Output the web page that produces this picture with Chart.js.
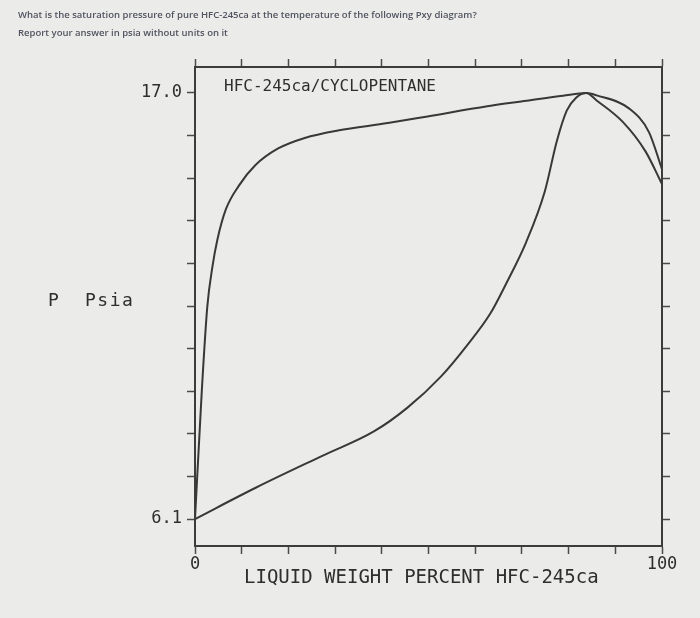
<!DOCTYPE html>
<html lang="en">

<head>
    <script src="https://cdn.jsdelivr.net/npm/chart.js"></script>
    <meta charset="UTF-8">
    <title>Pxy diagram</title>
    <style>
        body {
            margin: 0;
            background: #ebebe9;
        }

        #wrap {
            position: relative;
            width: 700px;
            height: 618px;
            overflow: hidden;
        }

        #pxy {
            position: absolute;
            left: 0;
            top: 0;
        }

        .question {
            position: absolute;
            left: 18px;
            font-family: "Open Sans", Arial, sans-serif;
            font-size: 9.5px;
            font-weight: 600;
            line-height: 10px;
            color: #50535f;
            white-space: nowrap;
        }

        .plotText {
            position: absolute;
            font-family: "DejaVu Sans Mono", monospace;
            color: #2e2e2e;
            white-space: pre;
        }
    </style>
</head>

<body>
    <div id="wrap">
        <canvas id="pxy" width="700" height="618"></canvas>
        <div class="question" style="top:10px">What is the saturation pressure of pure HFC-245ca at the temperature of the following Pxy diagram?</div>
        <div class="question" style="top:28px">Report your answer in psia without units on it</div>
        <div class="plotText" style="left:224px; top:78px; font-size:16px; line-height:16px">HFC-245ca/CYCLOPENTANE</div>
        <div class="plotText" style="left:48px; top:291px; font-size:18px; line-height:18px; letter-spacing:1.5px">P  Psia</div>
        <div class="plotText" style="left:244px; top:567px; font-size:19px; line-height:19px">LIQUID WEIGHT PERCENT HFC-245ca</div>
    </div>

    <script>
        // outer curve
        const upperWt = [0, 1.47, 2.64, 3.75, 4.8, 6.6, 9.4, 12.9, 17.8, 23.5, 30.6, 41.3, 49.8, 62.6, 71.0, 78.8, 83.8, 86.0, 93.0, 97.2, 100];
        const upperP = [6.1, 9.41, 11.54, 12.57, 13.25, 14.02, 14.63, 15.15, 15.58, 15.85, 16.04, 16.23, 16.4, 16.66, 16.8, 16.93, 17.0, 16.94, 16.6, 16.0, 15.05];

        // inner curve
        const lowerWt = [0, 13.0, 27.5, 38.3, 45.5, 52.7, 58.3, 63.2, 66.7, 70.9, 74.9, 77.5, 79.6, 81.6, 83.8, 86.0, 91.6, 96.5, 100];
        const lowerP = [6.1, 6.9, 7.73, 8.34, 8.95, 9.75, 10.55, 11.35, 12.14, 13.18, 14.48, 15.78, 16.55, 16.88, 17.0, 16.81, 16.26, 15.5, 14.67];

        const wtTicks = [0, 10, 20, 30, 40, 50, 60, 70, 80, 90, 100];
        const wtTickLabels = ['0', '', '', '', '', '', '', '', '', '', '100'];
        const pTicks = [6.1, 7.19, 8.28, 9.37, 10.46, 11.55, 12.64, 13.73, 14.82, 15.91, 17.0];
        const pTickLabels = ['6.1', '', '', '', '', '', '', '', '', '', '17.0'];

        const P_MIN = 5.41;
        const P_MAX = 17.665;
        const ink = '#383838';
        const mono = '"DejaVu Sans Mono", monospace';

        function toPoints(xs, ys) {
            return xs.map((x, i) => ({ x: x, y: ys[i] }));
        }

        function frameAxis(position, size, labels, ticks, min, max) {
            const horiz = position === 'top' || position === 'bottom';
            return {
                type: 'linear',
                position: position,
                min: min,
                max: max,
                afterFit: s => {
                    if (horiz) s.height = size; else s.width = size;
                },
                afterBuildTicks: s => {
                    s.ticks = ticks.map(v => ({ value: v }));
                },
                ticks: {
                    display: labels !== null,
                    autoSkip: false,
                    maxRotation: 0,
                    padding: horiz ? 0 : 5,
                    color: '#2e2e2e',
                    font: { family: mono, size: 17 },
                    callback: (v, i) => labels ? labels[i] : ''
                },
                grid: {
                    drawOnChartArea: false,
                    drawTicks: true,
                    tickLength: 8,
                    tickWidth: 1.5,
                    tickColor: '#4a4a4a'
                },
                border: { display: true, color: '#3c3c3c', width: 2 }
            };
        }

        new Chart(document.getElementById('pxy'), {
            type: 'scatter',
            data: {
                datasets: [{
                    label: 'upper',
                    data: toPoints(upperWt, upperP),
                    xAxisID: 'x',
                    yAxisID: 'y'
                },
                {
                    label: 'lower',
                    data: toPoints(lowerWt, lowerP),
                    xAxisID: 'x',
                    yAxisID: 'y'
                }]
            },
            options: {
                responsive: false,
                animation: false,
                layout: { padding: 0 },
                elements: {
                    point: { radius: 0 },
                    line: { borderColor: ink, borderWidth: 2, cubicInterpolationMode: 'monotone' }
                },
                datasets: {
                    scatter: { showLine: true }
                },
                plugins: {
                    legend: { display: false },
                    tooltip: { enabled: false }
                },
                scales: {
                    x: frameAxis('bottom', 72, wtTickLabels, wtTicks, 0, 100),
                    xTop: frameAxis('top', 67, null, wtTicks, 0, 100),
                    y: frameAxis('left', 195, pTickLabels, pTicks, P_MIN, P_MAX),
                    yRight: frameAxis('right', 38, null, pTicks, P_MIN, P_MAX)
                }
            }
        });
    </script>
</body>

</html>
